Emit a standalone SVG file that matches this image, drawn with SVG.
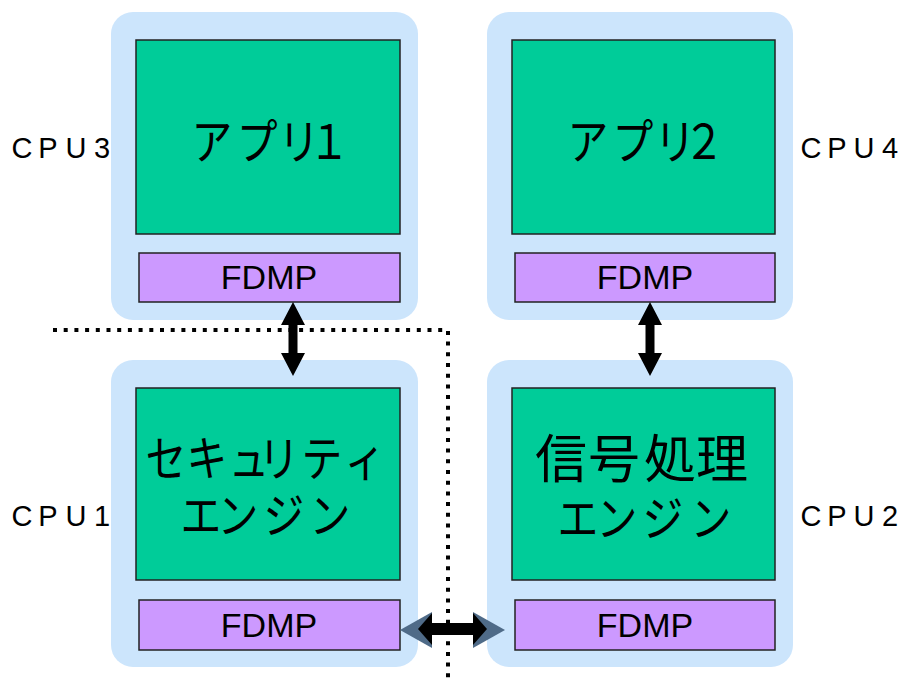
<svg xmlns="http://www.w3.org/2000/svg" width="903" height="682" viewBox="0 0 903 682">
<style>
.cpu{fill:#cce5fc}
.app{fill:#00cc99;stroke:#222;stroke-width:1.5}
.fd{fill:#cc99ff;stroke:#222;stroke-width:1.5}
.jp{font-family:"Noto Sans CJK JP","Noto Sans",sans-serif;font-size:48px;fill:#000;text-anchor:middle}
.kj{font-family:"Noto Sans CJK JP","Noto Sans",sans-serif;font-size:52px;fill:#000;text-anchor:middle}
.lb{font-family:"Liberation Sans",Arial,sans-serif;font-size:29px;fill:#000;text-anchor:middle}
.fdt{font-family:"Liberation Sans",Arial,sans-serif;font-size:34px;fill:#000;text-anchor:middle}
.dot{fill:none;stroke:#000;stroke-width:4;stroke-dasharray:4 6.7}
</style>
<rect width="903" height="682" fill="#fff"/>
<g id="cpu3">
<rect class="cpu" x="111" y="12" width="307" height="308" rx="22"/>
<rect class="app" x="136" y="40" width="264" height="194"/>
<text class="jp" transform="scale(0.85,1)" x="249.4 302.4 351.8 387.1" y="159">アプリ１</text>
<rect class="fd" x="139" y="253" width="261" height="49"/>
<text class="fdt" x="269" y="289">FDMP</text>
<text class="lb" x="22 48 76 102" y="158">CPU3</text>
</g>
<g id="cpu4">
<rect class="cpu" x="487" y="12" width="306" height="308" rx="22"/>
<rect class="app" x="512" y="40" width="263" height="194"/>
<text class="jp" transform="scale(0.85,1)" x="691.8 744.7 794.1 828.2" y="159">アプリ２</text>
<rect class="fd" x="515" y="253" width="260" height="49"/>
<text class="fdt" x="645" y="289">FDMP</text>
<text class="lb" x="811 837 864 890" y="158">CPU4</text>
</g>
<g id="cpu1">
<rect class="cpu" x="111" y="360" width="307" height="307" rx="22"/>
<rect class="app" x="136" y="388" width="264" height="192"/>
<text class="jp" transform="scale(0.85,1)" x="195.3 243.5 292.9 328.2 378.8 429.4" y="476">セキュリティ</text>
<text class="jp" transform="scale(0.85,1)" x="236.5 280 334.1 388.2" y="533">エンジン</text>
<rect class="fd" x="139" y="600" width="261" height="50"/>
<text class="fdt" x="269" y="637">FDMP</text>
<text class="lb" x="22 48 76 102" y="526">CPU1</text>
</g>
<g id="cpu2">
<rect class="cpu" x="487" y="360" width="306" height="307" rx="22"/>
<rect class="app" x="512" y="388" width="263" height="192"/>
<text class="kj" x="561 614 670 722" y="478">信号処理</text>
<text class="jp" transform="scale(0.85,1)" x="680 725.9 780 836.5" y="536">エンジン</text>
<rect class="fd" x="515" y="600" width="260" height="50"/>
<text class="fdt" x="645" y="637">FDMP</text>
<text class="lb" x="811 837 864 890" y="526">CPU2</text>
</g>
<g id="connectors">
<path class="dot" d="M53,330 H448 V682"/>
<polygon fill="#4f6b88" points="400,630 432,612 432,648"/>
<polygon fill="#4f6b88" points="505,630 473,612 473,648"/>
<polygon fill="#000" points="293,302 305,325 297.5,325 297.5,353 305,353 293,376 281,353 288.5,353 288.5,325 281,325"/>
<polygon fill="#000" points="650,302 662,325 654.5,325 654.5,353 662,353 650,376 638,353 645.5,353 645.5,325 638,325"/>
<polygon fill="#000" points="418,629 432,613 432,623 473,623 473,613 487,629 473,645 473,635 432,635 432,645"/>
</g>
</svg>
